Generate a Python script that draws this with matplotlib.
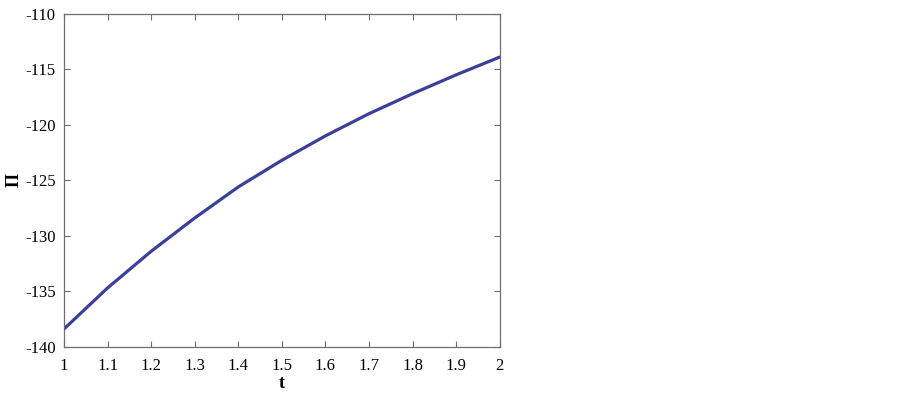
import numpy as np
import matplotlib.pyplot as plt

plt.rcParams['font.family'] = ['Liberation Serif', 'DejaVu Serif']
plt.rcParams['axes.unicode_minus'] = False

t = [1.0, 1.1, 1.2, 1.3, 1.4, 1.5, 1.6, 1.7, 1.8, 1.9, 2.0]
pi_vals = [-138.4, -134.7, -131.4, -128.4, -125.6, -123.2, -121.0, -119.0, -117.2, -115.5, -113.9]
xticks = [1, 1.1, 1.2, 1.3, 1.4, 1.5, 1.6, 1.7, 1.8, 1.9, 2]
xticklabels = ['1', '1.1', '1.2', '1.3', '1.4', '1.5', '1.6', '1.7', '1.8', '1.9', '2']
yticks = [-140, -135, -130, -125, -120, -115, -110]

fig = plt.figure(figsize=(9.02, 3.94), dpi=100)
ax = fig.add_axes([0.071, 0.12, 0.483, 0.845])

ax.plot(t, pi_vals, color='#3a3f99', linewidth=2.3, solid_capstyle='round')

ax.set_xlim(1, 2)
ax.set_ylim(-140, -110)
ax.set_xticks(xticks)
ax.set_xticklabels(xticklabels)
ax.set_yticks(yticks)
ax.tick_params(axis='both', direction='in', top=True, right=True, length=4, width=0.8,
               color='#6e6e6e', labelsize=12)
ax.tick_params(axis='x', pad=8)
ax.tick_params(axis='y', pad=6)
for s in ax.spines.values():
    s.set_color('#6e6e6e')
    s.set_linewidth(0.9)

ax.set_xlabel('t', fontsize=13, fontweight='bold', labelpad=1)
ax.set_ylabel('Π', fontsize=13, fontweight='bold', labelpad=2)

fig.savefig('out.png', dpi=100)
